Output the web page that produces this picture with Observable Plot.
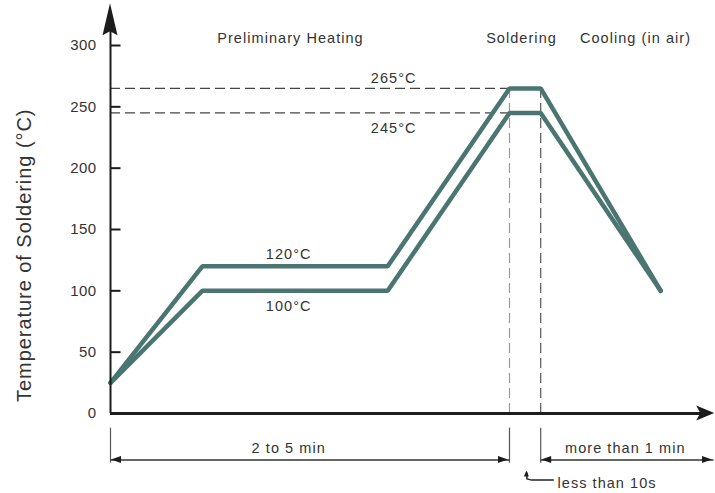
<!DOCTYPE html>
<html><head><meta charset="utf-8">
<script src="https://cdn.jsdelivr.net/npm/d3@7"></script>
<script src="https://cdn.jsdelivr.net/npm/@observablehq/plot@0.6"></script>
<style>
body{margin:0;background:#fff} svg{display:block}
</style>
</head><body><div id="chart"></div>
<script>
// Profile (time in arbitrary units along the time axis, temperature in °C)
const profileTime = [0, 15.3, 46.2, 66.5, 71.7, 91.7];
const upperTemp = [25, 120, 120, 265, 265, 100];
const lowerTemp = [25, 100, 100, 245, 245, 100];
const peakTemps = [265, 245];
const peakStart = 66.5, peakEnd = 71.7;
const yTicks = [0, 50, 100, 150, 200, 250, 300];
const axisEndTime = 100.7, axisEndTemp = 334;

const phaseNames = ["Preliminary Heating", "Soldering", "Cooling (in air)"];
const phaseTime = [30, 68.5, 87.5];
const phaseTemp = 305.5;

const tempLabels = ["265°C", "245°C", "120°C", "100°C"];
const tempLabelTime = [47.2, 47.2, 29.7, 29.7];
const tempLabelTemp = [273, 232.5, 129.5, 87];

const durationLabels = ["2 to 5 min", "more than 1 min"];
const durationTime = [29.7, 85.8];
const durationStart = [0, 71.7];
const durationEnd = [66.5, 100.5];
const durationTemp = -28.3, dimTemp = -38, extTop = -12, extBottom = -40.5;
const noteLabel = "less than 10s";
const noteTime = [74.5], noteTemp = [-57];
const hookTime = [69.4, 69.4, 70.2, 73.8];
const hookTemp = [-48.5, -53.3, -54.3, -54.3];

const yTitle = "Temperature of Soldering (°C)";
const yTitleTime = -14.4, yTitleTemp = 129;

const teal = "#4a7571";
const font = "'Liberation Sans', Arial, sans-serif";

const profile = profileTime.map((t, i) => ({t, upper: upperTemp[i], lower: lowerTemp[i]}));

function arrowheads(index, scales) {
  const g = d3.create("svg:g");
  const X = scales.x, Y = scales.y;
  const tri = (pts) => g.append("path").attr("d", "M" + pts.map(p => p.join(",")).join("L") + "Z").attr("fill", "#1c1c1c");
  {
    const px = X(0), py = Y(axisEndTemp);
    tri([[px, py], [px - 7.5, py + 32], [px, py + 28], [px + 7.5, py + 32]]);
  }
  {
    const px = X(axisEndTime), py = Y(0);
    tri([[px, py], [px - 18, py - 7.5], [px - 14, py], [px - 18, py + 7.5]]);
  }
  const dy = Y(dimTemp);
  durationStart.forEach(t => { const px = X(t); tri([[px + 1, dy], [px + 11, dy - 3.5], [px + 11, dy + 3.5]]); });
  durationEnd.forEach(t => { const px = X(t); tri([[px - 1, dy], [px - 11, dy - 3.5], [px - 11, dy + 3.5]]); });
  {
    const px = X(hookTime[0]), py = Y(hookTemp[0]);
    tri([[px, py - 2], [px - 2.5, py + 4], [px + 2.5, py + 4]]);
  }
  return g.node();
}

const labelStyle = {fill: "#333", fontSize: 14.5};

const chart = Plot.plot({
  width: 715, height: 493,
  marginLeft: 110, marginRight: 5, marginTop: 45, marginBottom: 80,
  x: {domain: [0, 100], axis: null},
  y: {domain: [0, 300], axis: null},
  style: {fontFamily: font, background: "white", overflow: "visible"},
  marks: [
    Plot.ruleY(peakTemps, {x1: 0, x2: peakStart, stroke: "#444", strokeWidth: 1.2, strokeDasharray: "10,5"}),
    Plot.ruleX([peakStart], {y1: 0, y2: peakTemps[0], stroke: "#999", strokeWidth: 1.2, strokeDasharray: "10,5"}),
    Plot.ruleX([peakEnd], {y1: 0, y2: peakTemps[0], stroke: "#555", strokeWidth: 1.2, strokeDasharray: "10,5"}),
    Plot.line(profile, {x: "t", y: "upper", stroke: teal, strokeWidth: 4.5, strokeLinejoin: "miter"}),
    Plot.line(profile, {x: "t", y: "lower", stroke: teal, strokeWidth: 4.5, strokeLinejoin: "miter"}),
    Plot.ruleX([0], {y1: 0, y2: axisEndTemp - 20, stroke: "#1c1c1c", strokeWidth: 2}),
    Plot.ruleY([0], {x1: 0, x2: axisEndTime - 2, stroke: "#1c1c1c", strokeWidth: 3}),
    Plot.ruleY(yTicks, {x1: 0, x2: 1.75, stroke: "#1c1c1c", strokeWidth: 2}),
    Plot.text(yTicks, {x: 0, y: d => d, text: d => String(d), dx: -14, textAnchor: "end", fontSize: 15, fill: "#333"}),
    Plot.text([yTitle], {x: yTitleTime, y: yTitleTemp, text: d => d, rotate: -90, fontSize: 20, fill: "#333"}),
    Plot.text(phaseNames, {x: (d, i) => phaseTime[i], y: phaseTemp, text: d => d, ...labelStyle}),
    Plot.text(tempLabels, {x: (d, i) => tempLabelTime[i], y: (d, i) => tempLabelTemp[i], text: d => d, ...labelStyle}),
    Plot.ruleX([0, peakStart, peakEnd], {y1: extBottom, y2: extTop, stroke: "#555", strokeWidth: 1.2}),
    Plot.link(durationStart, {x1: d => d, x2: (d, i) => durationEnd[i], y1: dimTemp, y2: dimTemp, stroke: "#333", strokeWidth: 1.5}),
    Plot.text(durationLabels, {x: (d, i) => durationTime[i], y: durationTemp, text: d => d, ...labelStyle}),
    Plot.line(hookTime.map((t, i) => ({t, v: hookTemp[i]})), {x: "t", y: "v", stroke: "#222", strokeWidth: 1.5}),
    Plot.text([noteLabel], {x: noteTime[0], y: noteTemp[0], text: d => d, textAnchor: "start", ...labelStyle}),
    arrowheads
  ]
});
// letter spacing to match the reference's wide typesetting
const tickStrings = new Set(yTicks.map(String));
d3.select(chart).selectAll("text").each(function () {
  const s = this.textContent;
  const ls = s === yTitle ? 0.95 : tickStrings.has(s) ? 0.4 : 1.05;
  this.setAttribute("letter-spacing", ls);
});
document.getElementById("chart").append(chart);
</script>
</body></html>
